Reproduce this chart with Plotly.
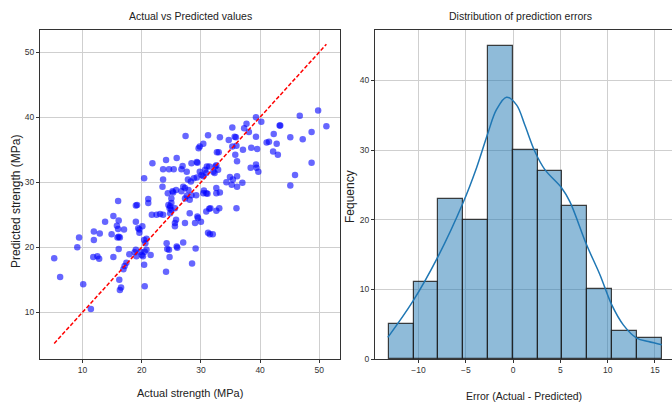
import plotly.graph_objects as go

# ---------------- data ----------------
actual = [5.2, 6.2, 9.1, 9.4, 10.1, 11.4, 11.9, 11.9, 11.8, 12.5, 12.8, 12.9, 13.8, 14.9,
          15.2, 15.2, 15.8, 16.0, 16.1, 15.9, 16.1, 16.3, 16.1, 16.2, 16.5, 16.3, 16.0, 17.0,
          17.4, 17.1, 16.9, 17.9,
          18.8, 19.1, 19.0, 19.6, 19.6, 19.4, 20.1, 19.0, 19.2, 19.0, 20.0, 20.2, 20.4, 20.5,
          20.8, 20.6, 20.4, 20.8, 21.5, 20.4, 21.1, 21.1, 21.8, 21.7, 19.8, 20.5,
          22.5, 23.1, 23.6, 23.6, 24.6, 25.4, 24.1, 23.6, 23.5, 25.2, 25.9, 24.8, 25.0, 24.5,
          25.0, 25.3, 24.7, 24.8, 25.0, 25.6, 25.6, 25.8, 25.6, 24.2, 24.3, 24.6, 24.7, 24.1,
          25.9, 26.0, 25.8,
          26.7, 26.9, 27.4, 27.6, 27.0, 26.7, 27.3, 27.6, 27.3, 28.1, 28.4, 29.2, 28.4, 28.3,
          28.8, 29.4, 29.6, 29.8, 29.8, 27.3, 28.1, 29.0, 29.5, 29.4, 30.0, 27.0, 29.1, 28.5,
          27.9, 29.3, 27.8,
          30.4, 30.4, 30.7, 31.0, 31.4, 31.2, 30.9, 32.1, 32.3, 32.9, 30.5, 30.9, 32.7, 33.0,
          32.6, 33.2, 32.6, 33.2, 34.3, 34.7, 34.9, 30.4, 31.1, 32.6, 30.9, 31.4, 31.6, 32.6,
          33.1, 31.2, 31.5, 32.0, 35.2, 30.1, 32.4,
          36.0, 35.3, 35.3, 35.4, 35.7, 35.9, 35.8, 36.0, 36.1, 36.1, 36.1, 37.0, 37.1, 37.3,
          37.7, 38.1, 38.4, 38.5, 39.3, 39.3, 39.3, 39.4, 39.7, 39.5, 40.2, 41.1, 41.5, 42.2,
          42.3, 42.8, 43.0, 43.3, 43.4, 45.1, 45.1, 45.9, 46.7, 47.2, 48.7, 48.7, 49.8, 51.2,
          29.3, 24.4]
predicted = [18.3, 15.4, 20.0, 21.5, 14.3, 10.5, 22.4, 21.1, 18.5, 18.6, 18.2, 22.1, 23.9, 22.0,
             24.8, 18.5, 23.3, 22.8, 24.1, 21.5, 21.6, 21.5, 19.7, 15.0, 13.8, 13.4, 27.1, 22.7,
             17.6, 17.1, 16.6, 18.9,
             19.2, 18.6, 19.6, 22.7, 22.2, 22.9, 23.2, 26.4, 26.5, 23.9, 18.8, 18.6, 17.3, 14.0,
             19.6, 20.6, 21.1, 21.3, 18.8, 30.6, 27.4, 26.8, 32.9, 25.0, 19.3, 19.3,
             25.0, 25.1, 25.0, 32.0, 32.0, 32.0, 33.4, 30.4, 29.3, 28.6, 33.7, 26.3, 26.8, 26.5,
             27.5, 28.4, 26.0, 25.2, 25.7, 26.0, 23.7, 24.2, 23.2, 20.6, 19.7, 19.6, 18.5, 16.2,
             20.1, 19.9, 28.8,
             32.0, 32.5, 37.1, 31.6, 29.3, 28.6, 29.1, 27.9, 27.5, 27.3, 28.0, 28.0, 32.9, 30.1,
             30.6, 33.0, 35.2, 35.5, 31.6, 23.7, 25.2, 23.7, 24.5, 24.7, 23.9, 20.7, 19.8, 17.5,
             28.8, 30.7, 30.4,
             35.9, 30.9, 31.9, 32.4, 32.4, 37.2, 31.4, 31.6, 31.4, 31.9, 28.7, 28.3, 34.6, 34.6,
             32.6, 36.9, 29.1, 28.4, 30.0, 36.5, 30.8, 28.3, 28.2, 28.3, 25.5, 25.9, 26.0, 25.6,
             26.0, 22.2, 22.0, 22.0, 29.6, 31.1, 32.4,
             26.0, 38.4, 35.5, 30.4, 37.0, 36.9, 34.2, 35.6, 33.2, 30.9, 29.3, 29.9, 35.0, 38.3,
             39.0, 37.7, 32.2, 35.3, 40.0, 37.0, 32.7, 32.2, 31.6, 35.1, 39.3, 36.1, 36.2, 34.7,
             37.4, 35.9, 34.2, 38.7, 38.7, 36.9, 29.5, 31.1, 40.2, 36.6, 37.7, 33.0, 41.0, 38.6,
             33.1, 28.3]

bin_edges = [-13.13, -10.51, -7.89, -5.27, -2.65, -0.03, 2.60, 5.22, 7.84, 10.46, 13.08, 15.70]
bin_counts = [5, 11, 23, 20, 45, 30, 27, 22, 10, 4, 3]

kde_x = [-13.24, -10.59, -7.94, -5.30, -3.88, -2.65, -1.76, -0.70, 0.36, 1.24, 2.30, 3.36,
         5.12, 6.0, 7.77, 9.18, 10.42, 11.65, 13.07, 14.3, 15.72]
kde_y = [3.1, 8.3, 14.7, 22.4, 27.4, 32.5, 35.8, 37.6, 36.5, 33.6, 29.8, 27.2,
         24.6, 22.6, 16.4, 12.1, 7.8, 4.9, 3.0, 2.5, 2.05]

x_ticks_left = [10, 20, 30, 40, 50]
y_ticks_left = [10, 20, 30, 40, 50]
x_ticks_right = [-10, -5, 0, 5, 10, 15]
y_ticks_right = [0, 10, 20, 30, 40]

# ---------------- figure ----------------
W, H = 672, 404
FONT = "Liberation Sans, Arial, sans-serif"
GRID = "#cfcfcf"
SPINE = "#333333"

def px_x(p):
    return p / W

def px_y(p):
    return 1 - p / H

fig = go.Figure()

fig.add_trace(go.Scatter(
    x=actual, y=predicted, mode="markers",
    marker=dict(color="blue", size=6.5, opacity=0.6, line=dict(width=0)),
    xaxis="x", yaxis="y", showlegend=False))

lo, hi = min(actual), max(actual)
fig.add_trace(go.Scatter(
    x=[lo, hi], y=[lo, hi], mode="lines",
    line=dict(color="red", width=1.5, dash="4px,2px"),
    xaxis="x", yaxis="y", showlegend=False))

centers = [(a + b) / 2 for a, b in zip(bin_edges[:-1], bin_edges[1:])]
widths = [b - a for a, b in zip(bin_edges[:-1], bin_edges[1:])]
fig.add_trace(go.Bar(
    x=centers, y=bin_counts, width=widths,
    marker=dict(color="rgba(31,119,180,0.5)", line=dict(color="rgba(30,30,30,0.85)", width=1.2)),
    xaxis="x2", yaxis="y2", showlegend=False))

fig.add_trace(go.Scatter(
    x=kde_x, y=kde_y, mode="lines", line=dict(color="#1f77b4", width=1.5, shape="spline"),
    xaxis="x2", yaxis="y2", showlegend=False))

axis_common = dict(
    showgrid=True, gridcolor=GRID, gridwidth=1, zeroline=False,
    showline=True, linecolor=SPINE, linewidth=1,
    ticks="outside", ticklen=3, tickcolor=SPINE, tickwidth=1,
    tickfont=dict(family=FONT, size=8.5, color="#333333"),
)

fig.update_layout(
    width=W, height=H,
    margin=dict(l=0, r=0, t=0, b=0, autoexpand=False),
    paper_bgcolor="white", plot_bgcolor="white",
    bargap=0,
    xaxis=dict(axis_common, domain=[px_x(40), px_x(340)], range=[2.8, 53.5],
               tickvals=x_ticks_left, mirror=True, anchor="y"),
    yaxis=dict(axis_common, domain=[px_y(359), px_y(30)], range=[2.8, 53.4],
               tickvals=y_ticks_left, mirror=True, anchor="x"),
    xaxis2=dict(axis_common, domain=[px_x(375), 1.0], range=[-14.6, 16.8],
                tickvals=x_ticks_right, tickformat="d", mirror=True, anchor="y2"),
    yaxis2=dict(axis_common, domain=[px_y(359), px_y(30)], range=[0, 47.25],
                tickvals=y_ticks_right, mirror=False, anchor="x2"),
)

def label(text, x, y, size, angle=0):
    fig.add_annotation(text=text, x=px_x(x), y=px_y(y), xref="paper", yref="paper",
                       showarrow=False, textangle=angle, xanchor="center", yanchor="middle",
                       font=dict(family=FONT, size=size, color="#222222"))

label("Actual vs Predicted values", 190, 16, 10.5)
label("Distribution of prediction errors", 520, 16, 10.5)
label("Actual strength (MPa)", 190, 393, 11)
label("Error (Actual - Predicted)", 524, 396, 10.5)
label("Predicted strength (MPa)", 16, 202, 12, -90)
label("Fequency", 350, 197, 12, -90)

fig.write_html(
    "out.html",
    config={"displayModeBar": False},
    post_script="document.body.style.margin='0';document.body.style.padding='0';"
                "document.body.style.overflow='hidden';",
)
